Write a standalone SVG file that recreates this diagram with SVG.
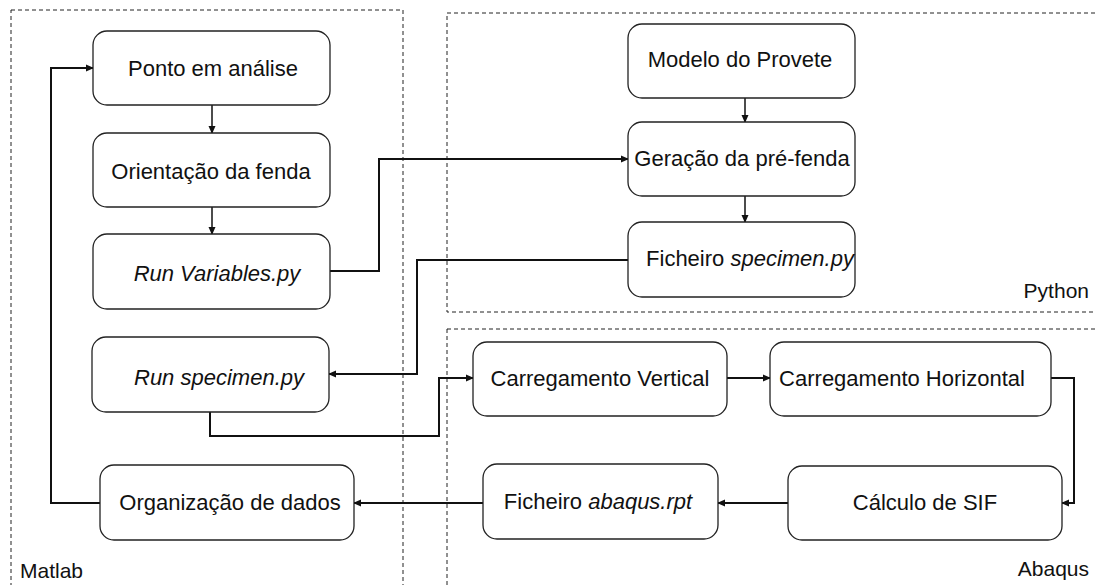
<svg xmlns="http://www.w3.org/2000/svg" width="1095" height="585" viewBox="0 0 1095 585">
<style>
.box{fill:#fff;stroke:#222;stroke-width:1.3}
.grp{fill:none;stroke:#222;stroke-width:1;stroke-dasharray:4 3}
.t{font-family:"Liberation Sans",Arial,sans-serif;font-size:22px;fill:#111;text-anchor:middle}
.lbl{font-family:"Liberation Sans",Arial,sans-serif;font-size:21px;fill:#111}
.c{fill:none;stroke:#111;stroke-width:2}
.c1{fill:none;stroke:#111;stroke-width:1.5}
</style>
<defs>
<marker id="ah" markerWidth="8" markerHeight="8" refX="7" refY="4" orient="auto" markerUnits="userSpaceOnUse"><path d="M0,0.5 L8,4 L0,7.5 Z" fill="#111"/></marker>
</defs>
<rect width="1095" height="585" fill="#fff"/>
<g id="groups">
<rect class="grp" x="11" y="10" width="392" height="600"/>
<rect class="grp" x="447" y="13" width="660" height="299"/>
<rect class="grp" x="447" y="329" width="660" height="280"/>
<text class="lbl" x="20" y="578">Matlab</text>
<text class="lbl" x="1089" y="298" text-anchor="end">Python</text>
<text class="lbl" x="1089" y="576" text-anchor="end">Abaqus</text>
</g>
<g id="connectors">
<line class="c1" x1="212" y1="105" x2="212" y2="133" marker-end="url(#ah)"/>
<line class="c1" x1="212" y1="207" x2="212" y2="234" marker-end="url(#ah)"/>
<line class="c1" x1="745" y1="98" x2="745" y2="122" marker-end="url(#ah)"/>
<line class="c1" x1="745" y1="196" x2="745" y2="222" marker-end="url(#ah)"/>
<polyline class="c" points="330,271 379,271 379,159 628,159" marker-end="url(#ah)"/>
<polyline class="c" points="628,260 417,260 417,374 329,374" marker-end="url(#ah)"/>
<polyline class="c" points="210,412 210,436 439,436 439,378 473,378" marker-end="url(#ah)"/>
<line class="c" x1="727" y1="378" x2="770" y2="378" marker-end="url(#ah)"/>
<polyline class="c" points="1051,378 1074,378 1074,503 1062,503" marker-end="url(#ah)"/>
<line class="c" x1="788" y1="503" x2="718" y2="503" marker-end="url(#ah)"/>
<line class="c" x1="483" y1="503" x2="354" y2="503" marker-end="url(#ah)"/>
<polyline class="c" points="100,503 51,503 51,68 93,68" marker-end="url(#ah)"/>
</g>
<g id="ponto"><rect class="box" x="93" y="31" width="237" height="74" rx="14"/><text class="t" x="213" y="76">Ponto em análise</text></g>
<g id="orientacao"><rect class="box" x="93" y="133" width="237" height="74" rx="14"/><text class="t" x="211" y="179">Orientação da fenda</text></g>
<g id="runvariables"><rect class="box" x="93" y="234" width="237" height="75" rx="14"/><text class="t" x="217" y="281" font-style="italic">Run Variables.py</text></g>
<g id="runspecimen"><rect class="box" x="92" y="337" width="237" height="75" rx="14"/><text class="t" x="219" y="385" font-style="italic">Run specimen.py</text></g>
<g id="organizacao"><rect class="box" x="100" y="465" width="254" height="75" rx="14"/><text class="t" x="230" y="510">Organização de dados</text></g>
<g id="modelo"><rect class="box" x="628" y="24" width="227" height="74" rx="14"/><text class="t" x="740" y="67">Modelo do Provete</text></g>
<g id="geracao"><rect class="box" x="628" y="122" width="227" height="74" rx="14"/><text class="t" x="742" y="166">Geração da pré-fenda</text></g>
<g id="ficheirospecimen"><rect class="box" x="628" y="222" width="227" height="75" rx="14"/><text class="t" x="750" y="266">Ficheiro <tspan font-style="italic">specimen.py</tspan></text></g>
<g id="cargavertical"><rect class="box" x="473" y="342" width="254" height="74" rx="14"/><text class="t" x="600" y="386">Carregamento Vertical</text></g>
<g id="cargahorizontal"><rect class="box" x="770" y="342" width="281" height="74" rx="14"/><text class="t" x="902" y="386">Carregamento Horizontal</text></g>
<g id="calculo"><rect class="box" x="788" y="466" width="274" height="74" rx="14"/><text class="t" x="925" y="510">Cálculo de SIF</text></g>
<g id="ficheiroabaqus"><rect class="box" x="483" y="464" width="235" height="75" rx="14"/><text class="t" x="598" y="509">Ficheiro <tspan font-style="italic">abaqus.rpt</tspan></text></g>
</svg>
